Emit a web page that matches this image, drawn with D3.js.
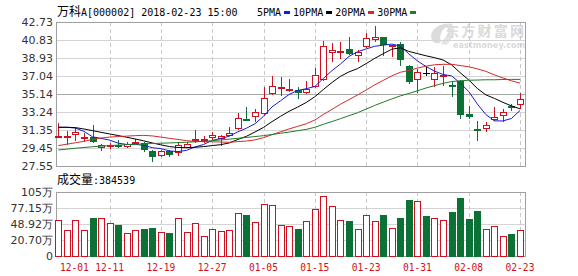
<!DOCTYPE html>
<html><head><meta charset="utf-8">
<script src="https://cdn.jsdelivr.net/npm/d3@7"></script>
<style>body{margin:0;background:#fff}svg{display:block}</style>
</head><body><svg id="c" width="578" height="276"></svg>
<script>
const dates=["12-01","12-04","12-05","12-06","12-07","12-08","12-11","12-12","12-13","12-14","12-15","12-18","12-19","12-20","12-21","12-22","12-25","12-26","12-27","12-28","12-29","01-02","01-03","01-04","01-05","01-08","01-09","01-10","01-11","01-12","01-15","01-16","01-17","01-18","01-19","01-22","01-23","01-24","01-25","01-26","01-29","01-30","01-31","02-01","02-02","02-05","02-06","02-07","02-08","02-09","02-12","02-13","02-14","02-22","02-23"];
const open =[30.5,30.6,30.8,30.55,30.6,29.5,29.72,29.78,29.55,30.05,29.95,29.15,28.6,29.1,28.9,29.5,30.2,30.3,30.55,30.38,30.75,31.45,32.5,32.75,33.05,35.15,35.7,35.6,35.55,35.2,35.9,36.6,39.5,39.55,39.85,39.1,40.1,40.8,41.15,40.2,40.45,38.1,36.6,37.4,36.6,37.0,36.05,36.5,33.05,31.5,31.45,32.4,32.85,33.9,33.95];
const high =[32.05,31.2,31.55,31.06,31.85,29.85,29.95,30.3,30.05,30.38,30.12,29.25,29.2,29.25,30.1,30.05,31.35,30.7,31.1,30.85,31.7,33.1,33.8,33.6,35.85,37.05,36.95,36.7,35.85,36.5,37.9,40.7,40.55,40.6,41.15,39.75,41.55,42.3,41.2,40.35,40.65,38.2,37.8,37.95,37.95,38.1,36.4,36.6,33.9,32.3,32.2,33.8,33.55,34.05,35.2];
const low  =[30.45,29.75,30.2,30.1,29.95,29.1,29.3,29.5,29.42,29.87,29.05,28.0,28.45,28.55,28.65,29.4,29.95,29.95,30.3,29.7,30.7,31.35,32.25,32.2,32.95,35.0,34.9,35.4,34.6,35.1,35.75,36.5,38.5,38.85,39.2,38.5,39.95,40.6,39.1,39.05,38.1,36.2,35.25,37.0,35.9,36.0,34.85,32.55,32.55,30.2,31.15,32.25,32.2,33.3,33.6];
const close=[30.75,30.72,31.15,30.62,30.05,29.78,29.78,29.58,29.9,30.12,29.25,28.55,29.1,28.7,29.75,29.88,30.38,30.4,30.85,30.75,31.08,32.65,32.33,33.2,34.7,36.0,35.93,35.66,35.25,35.65,37.15,40.2,39.75,39.7,39.4,39.55,41.05,41.15,40.3,40.3,38.7,36.4,37.45,37.4,37.4,37.1,35.9,32.95,32.7,31.3,31.85,32.75,33.2,33.7,34.65];
const volume=[56.0,38.3,56.0,38.3,60.0,59.5,51.2,47.7,33.0,38.3,40.1,42.4,34.8,33.6,59.0,34.8,50.7,27.8,40.1,36.6,38.3,68.3,65.3,52.5,84.2,82.4,47.2,45.4,40.1,54.2,75.4,98.3,80.7,55.5,54.2,40.1,64.8,54.2,64.8,41.3,59.5,91.3,89.0,63.0,59.0,55.5,70.1,94.8,57.7,71.9,40.1,44.9,27.2,31.3,38.45];
const ma5 =[31.63,31.63,31.55,31.2,30.63,30.46,30.28,29.96,29.82,29.83,29.73,29.48,29.38,29.14,29.07,29.2,29.56,29.82,30.25,30.45,30.69,31.15,31.53,32.0,32.79,33.78,34.43,35.1,35.51,35.7,35.93,36.78,37.6,38.3,39.1,39.6,39.89,40.17,40.29,40.4,40.2,39.37,38.63,38.05,37.55,37.2,37.05,36.3,35.4,34.1,32.98,32.31,32.3,32.56,33.4];
const ma10=[31.63,31.63,31.6,31.45,31.28,31.1,30.93,30.76,30.58,30.4,30.2,29.98,29.78,29.6,29.5,29.48,29.52,29.6,29.7,29.8,29.98,30.35,30.68,31.13,31.62,32.23,32.79,33.32,33.76,34.25,34.85,35.61,36.35,37.0,37.47,37.82,38.34,38.89,39.39,39.86,40.01,39.63,39.4,39.17,38.97,38.73,38.21,37.39,36.63,35.73,35.05,34.68,34.26,33.89,33.58];
const ma20=[29.7,29.85,30.0,30.15,30.35,30.5,30.6,30.65,30.7,30.75,30.78,30.72,30.6,30.47,30.35,30.22,30.15,30.12,30.1,30.08,30.05,30.12,30.18,30.3,30.54,30.85,31.16,31.46,31.73,32.0,32.4,32.98,33.51,34.06,34.55,35.03,35.56,36.1,36.57,37.05,37.43,37.62,37.87,38.08,38.22,38.27,38.27,38.14,38.01,37.79,37.53,37.16,36.83,36.53,36.29];
const ma30=[29.24,29.33,29.42,29.5,29.58,29.64,29.7,29.75,29.8,29.84,29.88,29.92,29.95,29.98,30.02,30.05,30.1,30.15,30.22,30.3,30.38,30.47,30.56,30.65,30.75,30.87,31.0,31.13,31.27,31.41,31.63,31.95,32.23,32.54,32.85,33.17,33.55,33.93,34.28,34.62,34.94,35.2,35.48,35.77,36.02,36.26,36.45,36.53,36.59,36.61,36.64,36.64,36.67,36.68,36.68];
const priceTicks=[42.73,40.83,38.93,37.04,35.14,33.24,31.35,29.45,27.55];
const volTicks=[105.37,77.15,48.92,20.70,-7.52];
const volTickLabels=["105万","77.15万","48.92万","20.70万","0"];
const dateTicks=["12-01","12-11","12-19","12-27","01-05","01-15","01-23","01-31","02-08","02-23"];
const maNames=["5PMA","10PMA","20PMA","30PMA"];
const maColors=["#1a1ad6","#000000","#d22b2b","#1e7d28"];
const stockName="万科", stockRest="A[000002] 2018-02-23 15:00";
const volTitle="成交量", volValue=":384539";

const RED="#cf1020", GREEN="#0c7135";
const svg=d3.select("#c");
const L=56,R=525,PT=22,PB=166,VT=192,VB=256;
const x=d3.scalePoint().domain(dates).range([58.3,520]);
const y=d3.scaleLinear().domain([27.55,42.73]).range([PB,PT]);
const yv=d3.scaleLinear().domain([-7.52,105.37]).range([VB,VT]);
const cx=d=>Math.round(x(d));
const mono="'DejaVu Sans Mono',monospace", cjk="'Noto Sans CJK SC',sans-serif", sans="'DejaVu Sans',sans-serif";

// watermark
const wm=svg.append("g");
wm.append("path").attr("d","M432,40 C428,30 440,22 452,24 C444,27 438,33 441,42 C438,44 434,44 432,40 Z").attr("fill","#dcdcdc");
wm.append("path").attr("d","M441,44 C446,36 452,30 447,25 C456,28 455,38 446,45 Z").attr("fill","#e4e4e4");
wm.append("text").attr("x",524).attr("y",36).attr("text-anchor","end").attr("font-family",cjk).attr("font-weight","bold").attr("font-size",14).attr("fill","#dadada").attr("textLength",79).text("东方财富网");
wm.append("text").attr("x",525).attr("y",48).attr("text-anchor","end").attr("font-family",sans).attr("font-weight","bold").attr("font-size",8).attr("fill","#dadada").attr("textLength",72).text("eastmoney.com");

// grids
const g=svg.append("g").attr("shape-rendering","crispEdges");
priceTicks.slice(1,-1).forEach(t=>{
  g.append("line").attr("x1",L).attr("x2",R).attr("y1",Math.round(y(t))+0.5).attr("y2",Math.round(y(t))+0.5)
   .attr("stroke",t===35.14?"#a8a8a8":"#d4d4d4");
});
volTicks.slice(1,-1).forEach(t=>{
  g.append("line").attr("x1",L).attr("x2",R).attr("y1",Math.round(yv(t))+0.5).attr("y2",Math.round(yv(t))+0.5).attr("stroke","#d4d4d4");
});
dateTicks.slice(1).forEach(d=>{
  [[PT,PB],[VT,VB]].forEach(([a,b])=>{
    g.append("line").attr("x1",cx(d)+0.5).attr("x2",cx(d)+0.5).attr("y1",a).attr("y2",b)
     .attr("stroke","#c8c8c8").attr("stroke-dasharray","4,3");
  });
});
g.append("rect").attr("x",L+0.5).attr("y",PT+0.5).attr("width",R-L).attr("height",PB-PT).attr("fill","none").attr("stroke","#a0a0a0");
g.append("rect").attr("x",L+0.5).attr("y",VT+0.5).attr("width",R-L).attr("height",VB-VT).attr("fill","none").attr("stroke","#a0a0a0");

// candles
const cg=svg.append("g").attr("shape-rendering","crispEdges");
dates.forEach((d,i)=>{
  const o=open[i],c=close[i],h=high[i],l=low[i],X=cx(d);
  const top=y(Math.max(o,c)), bot=y(Math.min(o,c));
  if(c>o){
    const t=Math.round(top), b=Math.max(Math.round(bot),t+2);
    cg.append("line").attr("x1",X+0.5).attr("x2",X+0.5).attr("y1",Math.round(y(h))).attr("y2",t).attr("stroke",RED);
    cg.append("line").attr("x1",X+0.5).attr("x2",X+0.5).attr("y1",b).attr("y2",Math.round(y(l))).attr("stroke",RED);
    cg.append("rect").attr("x",X-2.5).attr("y",t+0.5).attr("width",6).attr("height",b-t-1).attr("fill","#fff").attr("stroke",RED);
  } else if(c<o){
    const t=Math.round(top), b=Math.max(Math.round(bot),t+2);
    cg.append("line").attr("x1",X+0.5).attr("x2",X+0.5).attr("y1",Math.round(y(h))).attr("y2",Math.round(y(l))).attr("stroke",GREEN);
    cg.append("rect").attr("x",X-3).attr("y",t).attr("width",7).attr("height",b-t).attr("fill",GREEN);
  } else {
    cg.append("line").attr("x1",X+0.5).attr("x2",X+0.5).attr("y1",Math.round(y(h))).attr("y2",Math.round(y(l))).attr("stroke","#000");
    cg.append("line").attr("x1",X-3).attr("x2",X+4).attr("y1",Math.round(top)+0.5).attr("y2",Math.round(top)+0.5).attr("stroke","#000");
  }
});

// moving averages
const mas=[ma5,ma10,ma20,ma30];
const line=d3.line().x((v,i)=>x(dates[i])).y(v=>y(v));
mas.forEach((m,k)=>{
  svg.append("path").attr("d",line(m)).attr("fill","none").attr("stroke",maColors[k]).attr("stroke-width",1);
});

// volume
const vg=svg.append("g").attr("shape-rendering","crispEdges");
dates.forEach((d,i)=>{
  const up = close[i]>open[i] || (close[i]===open[i] && i>0 && close[i]>=close[i-1]);
  const X=cx(d), t=Math.round(yv(volume[i]));
  if(up){
    vg.append("rect").attr("x",X-2.5).attr("y",t+0.5).attr("width",6).attr("height",VB-t-0.5).attr("fill","#fff").attr("stroke",RED);
  } else {
    vg.append("rect").attr("x",X-3).attr("y",t).attr("width",7).attr("height",VB-t+1).attr("fill",GREEN);
  }
});

// axis labels
priceTicks.forEach(t=>{
  svg.append("text").attr("x",53).attr("y",y(t)+4).attr("text-anchor","end").attr("font-family",sans).attr("font-size",11).attr("fill","#333").text(t.toFixed(2));
});
volTicks.forEach((t,i)=>{
  svg.append("text").attr("x",53).attr("y",yv(t)+4).attr("text-anchor","end").attr("font-family",sans).attr("font-size",11).attr("fill","#333").text(volTickLabels[i]);
});
dateTicks.forEach((d,i)=>{
  svg.append("text").attr("x",i===0?60:x(d)).attr("y",271).attr("text-anchor",i===0?"start":"middle")
   .attr("font-family",mono).attr("font-size",9.6).attr("fill",RED).text(d);
});

// header
const hd=svg.append("text").attr("x",57).attr("y",16).attr("fill","#000");
hd.append("tspan").attr("font-family",cjk).attr("font-size",12).text(stockName);
hd.append("tspan").attr("font-family",mono).attr("font-size",10).text(stockRest);
let lx=257;
maNames.forEach((n,k)=>{
  svg.append("text").attr("x",lx).attr("y",16).attr("font-family",mono).attr("font-size",10).attr("fill","#000").text(n);
  lx+=n.length*6.02+3;
  svg.append("rect").attr("x",Math.round(lx)).attr("y",11).attr("width",6).attr("height",3).attr("fill",maColors[k]);
  lx+=9;
});
const vt=svg.append("text").attr("x",57).attr("y",184).attr("fill","#000");
vt.append("tspan").attr("font-family",cjk).attr("font-size",12).text(volTitle);
vt.append("tspan").attr("font-family",mono).attr("font-size",10).text(volValue);
</script>
</body></html>
